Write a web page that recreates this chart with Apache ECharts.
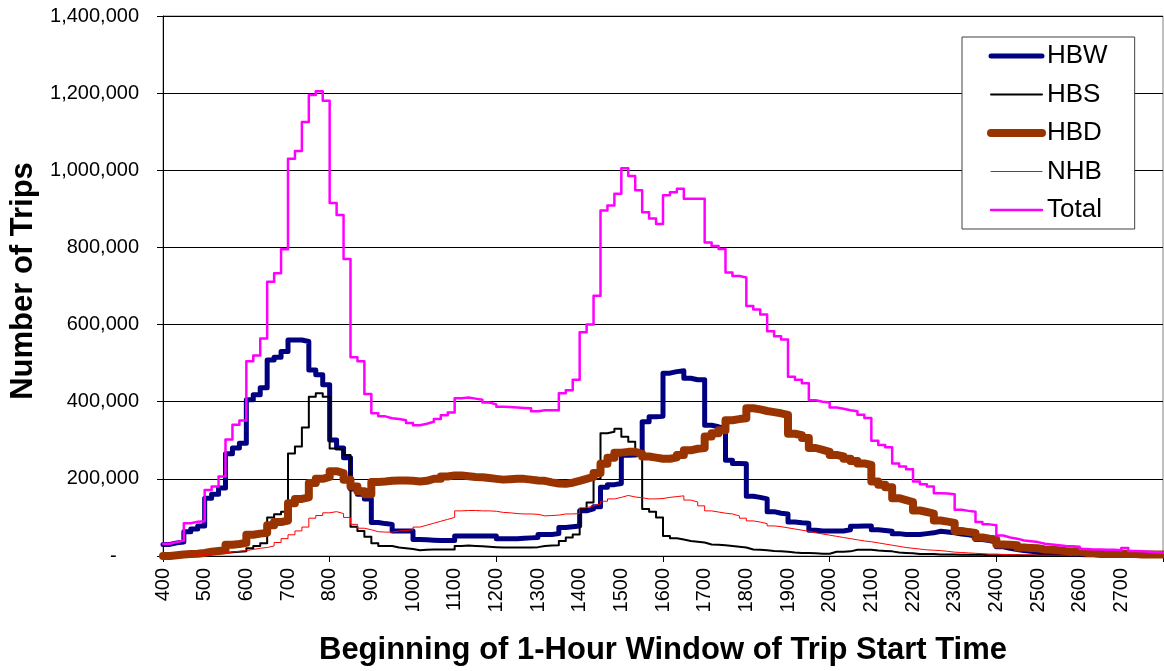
<!DOCTYPE html>
<html>
<head>
<meta charset="utf-8">
<title>Trips by 1-hour window</title>
<script src="https://cdn.jsdelivr.net/npm/echarts@6/dist/echarts.min.js"></script>
<style>
  html, body { margin: 0; padding: 0; background: #fff; }
  #chart { width: 1164px; height: 671px; }
</style>
</head>
<body>
<div id="chart"></div>
<script>
// window start times: every 10 minutes from 4:00 to 27:50 (minutes after midnight), plus end point 28:00
var startMin = 240, stepMin = 10, endMin = 1680;

// trips in thousands, one row per hour (:00 :10 :20 :30 :40 :50), last value is the 28:00 end point
var hbw = [
  30, 34, 36, 63, 70, 78,
  150, 160, 176, 265, 280, 292,
  405, 418, 436, 508, 515, 530,
  560, 560, 556, 482, 470, 444,
  301, 280, 255, 174, 160, 148,
  87, 84, 82, 65, 65, 65,
  43, 42, 41, 40, 40, 40,
  52, 52, 52, 52, 52, 52,
  45, 45, 45, 46, 47, 48,
  56, 56, 58, 74, 76, 78,
  117, 122, 128, 178, 185, 188,
  261, 262, 265, 348, 361, 362,
  474, 478, 480, 461, 457, 457,
  339, 335, 330, 248, 240, 239,
  155, 152, 148, 115, 111, 109,
  88, 86, 85, 67, 65, 65,
  65, 65, 68, 77, 78, 78,
  68, 66, 64, 58, 56, 56,
  56, 58, 60, 64, 62, 60,
  57, 55, 52, 43, 40, 36,
  24, 20, 17, 14, 12, 10,
  8, 7, 6, 5, 4, 4,
  3, 3, 2, 2, 2, 2,
  1, 1, 1, 1, 1, 1,
  1
];
var hbs = [
  2, 2, 3, 4, 4, 5,
  6, 7, 8, 10, 11, 12,
  20, 26, 33, 100, 108, 115,
  266, 284, 333, 413, 422, 413,
  279, 275, 262, 76, 65, 50,
  33, 26, 26, 22, 20, 18,
  15, 16, 17, 17, 17, 17,
  26, 27, 26, 25, 24, 23,
  22, 22, 22, 22, 22, 23,
  26, 27, 28, 39, 48, 56,
  122, 139, 200, 318, 322, 330,
  309, 296, 275, 122, 115, 100,
  52, 46, 43, 39, 37, 35,
  30, 29, 28, 26, 24, 22,
  17, 16, 15, 13, 12, 11,
  9, 8, 8, 7, 6, 6,
  11, 11, 12, 16, 16, 16,
  14, 13, 12, 9, 8, 7,
  5, 5, 5, 4, 4, 4,
  3, 3, 3, 3, 2, 2,
  2, 2, 2, 1, 1, 1,
  1, 1, 1, 1, 1, 1,
  1, 1, 0, 0, 0, 0,
  0, 0, 0, 0, 0, 0,
  0
];
var hbd = [
  0, 2, 4, 5, 6, 8,
  11, 13, 15, 29, 31, 34,
  55, 58, 60, 80, 88, 92,
  137, 148, 152, 189, 200, 205,
  220, 215, 198, 180, 168, 160,
  192, 193, 195, 196, 196, 195,
  193, 195, 200, 200, 206, 209,
  209, 207, 205, 204, 202, 200,
  198, 199, 200, 200, 198, 196,
  195, 191, 188, 187, 190, 195,
  200, 205, 215, 239, 255, 268,
  270, 270, 265, 258, 255, 252,
  252, 256, 262, 274, 278, 280,
  310, 318, 326, 352, 355, 357,
  383, 380, 376, 373, 370, 366,
  317, 313, 306, 280, 275, 270,
  262, 258, 252, 246, 240, 236,
  193, 185, 178, 150, 145, 140,
  118, 114, 110, 92, 89, 86,
  65, 62, 60, 48, 45, 43,
  30, 29, 28, 22, 21, 20,
  17, 16, 15, 13, 12, 12,
  8, 8, 7, 7, 7, 6,
  5, 5, 4, 4, 4, 4,
  4
];
var nhb = [
  1, 1, 2, 2, 3, 4,
  5, 6, 8, 10, 12, 14,
  17, 20, 22, 26, 35, 45,
  55, 65, 75, 98, 105, 112,
  115, 110, 100, 82, 72, 68,
  63, 62, 62, 65, 66, 68,
  75, 80, 85, 90, 95, 100,
  117, 118, 118, 117, 117, 116,
  113, 112, 110, 109, 109, 108,
  104, 105, 106, 109, 109, 110,
  125, 130, 135, 142, 148, 152,
  157, 153, 151, 148, 148, 149,
  152, 154, 156, 145, 140, 130,
  117, 114, 111, 109, 104, 98,
  91, 88, 84, 78, 76, 73,
  70, 67, 64, 60, 57, 54,
  51, 48, 45, 42, 39, 37,
  34, 31, 28, 25, 22, 20,
  18, 16, 15, 14, 12, 10,
  9, 8, 7, 6, 5, 5,
  4, 4, 3, 3, 3, 2,
  2, 2, 2, 2, 1, 1,
  1, 1, 1, 1, 1, 1,
  1, 1, 1, 1, 1, 1,
  1
];
var total = [
  32, 36, 40, 85, 89, 90,
  171, 180, 206, 302, 340, 351,
  505, 520, 564, 711, 733, 795,
  1030, 1050, 1125, 1195, 1205, 1180,
  915, 884, 770, 515, 505, 420,
  370, 362, 357, 355, 352, 345,
  339, 343, 348, 355, 365, 372,
  409, 411, 408, 405, 398, 393,
  387, 386, 385, 384, 383, 375,
  378, 378, 378, 422, 430, 457,
  580, 600, 675, 896, 909, 939,
  1005, 985, 948, 891, 875, 861,
  935, 943, 952, 926, 926, 926,
  813, 804, 796, 735, 726, 722,
  648, 639, 626, 583, 570, 561,
  465, 457, 448, 404, 400, 398,
  385, 382, 378, 375, 366, 358,
  299, 288, 282, 240, 232, 225,
  193, 186, 180, 163, 162, 160,
  120, 117, 115, 88, 82, 80,
  53, 48, 45, 40, 38, 36,
  32, 30, 28, 26, 25, 24,
  18, 17, 17, 16, 16, 15,
  21, 13, 12, 11, 10, 9,
  8
];

var seriesNames = ['HBW', 'HBS', 'HBD', 'NHB', 'Total'];
var seriesValues = [hbw, hbs, hbd, nhb, total];
var seriesColors = ['#000080', '#000000', '#993300', '#ff0000', '#ff00ff'];
var seriesWidths = [5, 2, 8, 1, 2.5];

var yTicks = [0, 200000, 400000, 600000, 800000, 1000000, 1200000, 1400000];

function toPairs(arr) {
  return arr.map(function (v, i) {
    var t = startMin + i * stepMin;
    if (t > endMin) t = endMin;
    return [t, v * 1000];
  });
}

var FONT = 'Liberation Sans, Arial, sans-serif';
var chart = echarts.init(document.getElementById('chart'), null, { renderer: 'canvas' });

var option = {
  backgroundColor: '#fff',
  animation: false,
  textStyle: { fontFamily: FONT, color: '#000' },
  grid: {
    left: 162, right: 1, top: 16, bottom: 115,
    show: true, borderColor: '#808080', borderWidth: 1
  },
  legend: {
    orient: 'vertical',
    left: 962, top: 37,
    padding: [4, 27, 4, 25],
    // tiny item height keeps the line-series marker dot invisible
    itemWidth: 51, itemHeight: 1, itemGap: 8.5,
    backgroundColor: '#fff',
    borderColor: '#404040', borderWidth: 1,
    selectedMode: false,
    textStyle: { fontFamily: FONT, fontSize: 26, color: '#000', lineHeight: 30 },
    data: seriesNames.map(function (name, k) {
      return { name: name, lineStyle: { width: seriesWidths[k], cap: 'round' } };
    })
  },
  xAxis: [{
    type: 'value',
    min: startMin, max: endMin, interval: 60,
    name: 'Beginning of 1-Hour Window of Trip Start Time',
    nameLocation: 'middle', nameGap: 79,
    nameTextStyle: { fontFamily: FONT, fontSize: 31, fontWeight: 'bold', color: '#000' },
    axisLine: { show: true, lineStyle: { color: '#000', width: 1 } },
    axisTick: { show: false },
    splitLine: { show: false },
    axisLabel: {
      rotate: 90, margin: 12, fontSize: 20, color: '#000', fontFamily: FONT,
      formatter: function (v) { return v >= endMin ? '' : String(v / 60 * 100); }
    }
  }, {
    type: 'value',
    position: 'bottom',
    min: startMin, max: endMin, interval: 240,
    axisLine: { show: false },
    axisLabel: { show: false },
    splitLine: { show: false },
    axisTick: { show: true, length: 6, lineStyle: { color: '#000' } }
  }],
  yAxis: {
    type: 'value',
    min: yTicks[0], max: yTicks[yTicks.length - 1], interval: 200000,
    name: 'Number of Trips',
    nameLocation: 'middle', nameGap: 124,
    nameTextStyle: { fontFamily: FONT, fontSize: 31, fontWeight: 'bold', color: '#000', padding: [0, 0, 0, 10] },
    axisLine: { show: true, lineStyle: { color: '#000', width: 1 } },
    axisTick: { show: true, length: 6, lineStyle: { color: '#000' } },
    splitLine: { show: true, lineStyle: { color: '#000', width: 1 } },
    axisLabel: {
      margin: 24, fontSize: 20, color: '#000', fontFamily: FONT,
      formatter: function (v) { return v === 0 ? '-    ' : v.toLocaleString('en-US'); }
    }
  },
  series: seriesNames.map(function (name, k) {
    return {
      name: name,
      type: 'line',
      step: 'end',
      xAxisIndex: 0,
      symbol: 'none',
      data: toPairs(seriesValues[k]),
      itemStyle: { color: seriesColors[k] },
      lineStyle: { color: seriesColors[k], width: seriesWidths[k], cap: 'round', join: 'round' },
      emphasis: { disabled: true }
    };
  })
};

chart.setOption(option);
</script>
</body>
</html>
